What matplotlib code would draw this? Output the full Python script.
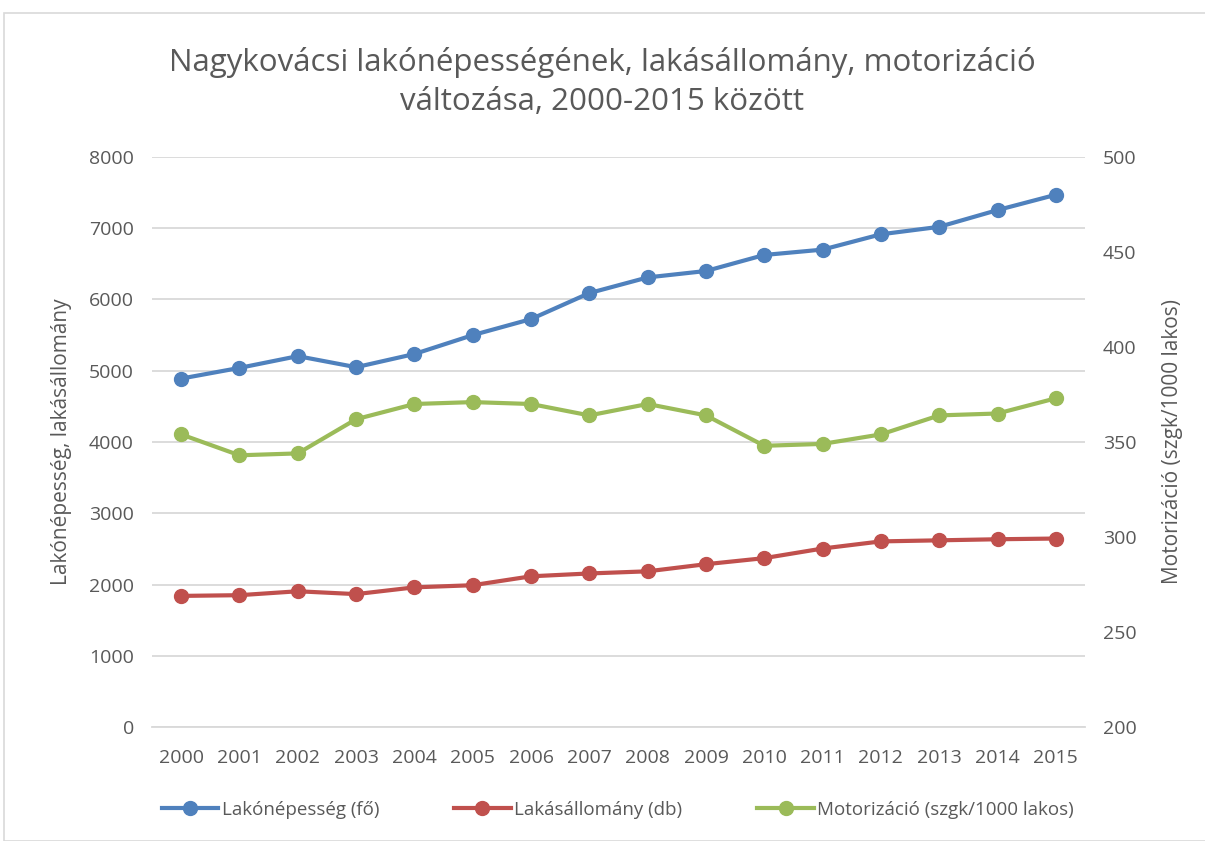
import matplotlib
matplotlib.use("Agg")
import matplotlib.pyplot as plt
from matplotlib.patches import Rectangle

plt.rcParams['font.family'] = ['Open Sans', 'DejaVu Sans']

years = ['2000', '2001', '2002', '2003', '2004', '2005', '2006', '2007',
         '2008', '2009', '2010', '2011', '2012', '2013', '2014', '2015']
lakonepesseg = [4890, 5040, 5205, 5050, 5235, 5500, 5725, 6090,
                6310, 6400, 6625, 6700, 6915, 7020, 7255, 7470]
lakasallomany = [1840, 1850, 1905, 1865, 1960, 1990, 2115, 2155,
                 2185, 2285, 2370, 2505, 2605, 2620, 2635, 2645]
motorizacio = [354, 343, 344, 362, 370, 371, 370, 364,
               370, 364, 348, 349, 354, 364, 365, 373]

title = 'Nagykovácsi lakónépességének, lakásállomány, motorizáció\nváltozása, 2000-2015 között'
left_label = 'Lakónépesség, lakásállomány'
right_label = 'Motorizáció (szgk/1000 lakos)'
names = ['Lakónépesség (fő)', 'Lakásállomány (db)', 'Motorizáció (szgk/1000 lakos)']

blue = '#4f81bd'
red = '#c0504d'
green = '#9bbb59'
txt = '#595959'
grid = '#d9d9d9'

fig = plt.figure(figsize=(12.05, 8.41), dpi=100)
fig.patches.append(Rectangle((4/1205, 0), 1.2, 1 - 13/841, transform=fig.transFigure,
                             fill=False, edgecolor='#d9d9d9', linewidth=1.2))

ax = fig.add_axes([152/1205, 1 - 727/841, (1085 - 152)/1205, (727 - 157)/841])
ax2 = ax.twinx()

x = list(range(len(years)))
lw = 3.0
ms = 10
l1, = ax.plot(x, lakonepesseg, color=blue, lw=lw, marker='o', ms=ms, label=names[0], zorder=3)
l2, = ax.plot(x, lakasallomany, color=red, lw=lw, marker='o', ms=ms, label=names[1], zorder=3)
l3, = ax2.plot(x, motorizacio, color=green, lw=lw, marker='o', ms=ms, label=names[2], zorder=3)

ax.set_xlim(-0.5, len(years) - 0.5)
ax.set_ylim(0, 8000)
ax.set_yticks(range(0, 8001, 1000))
ax2.set_ylim(200, 500)
ax2.set_yticks(range(200, 501, 50))
ax.set_xticks(x)
ax.set_xticklabels(years)

ax.grid(axis='y', color=grid, lw=1.3)
ax.set_axisbelow(True)
for a in (ax, ax2):
    for s in a.spines.values():
        s.set_visible(False)
    a.tick_params(length=0, labelsize=14, colors=txt)
ax.spines['bottom'].set_visible(True)
ax.spines['bottom'].set_color(grid)
ax.spines['bottom'].set_linewidth(1.3)
ax.tick_params(axis='x', pad=16)
ax.tick_params(axis='y', pad=13)
ax2.tick_params(axis='y', pad=13)

ax.set_ylabel(left_label, fontsize=15, color=txt, labelpad=12)
ax2.set_ylabel(right_label, fontsize=15, color=txt, rotation=90, labelpad=18)

fig.text(0.5, 1 - 82/841, title, ha='center', va='center', fontsize=22.5,
         color=txt, linespacing=1.42)

leg = fig.legend(handles=[l1, l2, l3], loc='center', ncol=3,
                 bbox_to_anchor=(618/1205, 1 - 810/841), frameon=False,
                 fontsize=13.5, handlelength=3.0, columnspacing=4.0,
                 handletextpad=0.2, labelcolor=txt, markerscale=1.0)

fig.savefig('out.png', dpi=100)
